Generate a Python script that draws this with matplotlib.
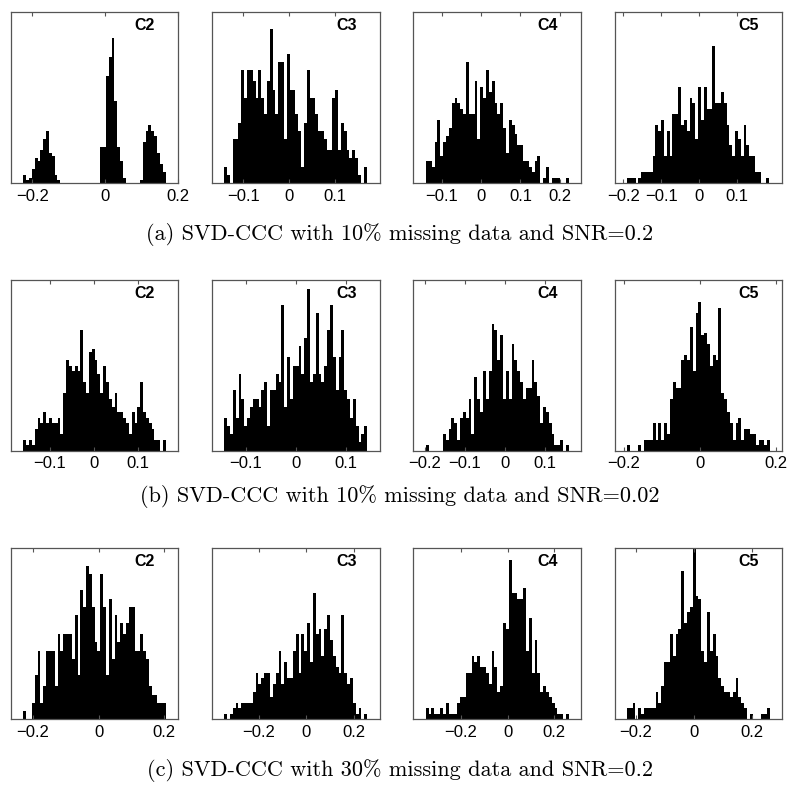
import numpy as np
import matplotlib
matplotlib.use("Agg")
import matplotlib.pyplot as plt

# ---------------- data ----------------
labels = ["C2", "C3", "C4", "C5"]
captions = [
    "(a) SVD-CCC with 10% missing data and SNR=0.2",
    "(b) SVD-CCC with 10% missing data and SNR=0.02",
    "(c) SVD-CCC with 30% missing data and SNR=0.2",
]

# row (a)
a_c2_range = (-0.2248, 0.167)
a_c2 = [3, 1, 2, 5, 9, 8, 12, 16, 19, 11, 10, 3, 1, 0, 0, 0, 0, 0, 0, 0, 0, 0, 0, 0, 0, 0,
        0, 13, 13, 39, 46, 53, 30, 13, 8, 2, 0, 0, 0, 0, 0, 1, 15, 19, 21, 19, 17, 11, 7, 4]
a_c3_range = (-0.1415, 0.169)
a_c3 = [6, 3, 0, 16, 16, 22, 41, 31, 41, 41, 37, 31, 41, 31, 25, 37, 56, 34, 25, 44,
        44, 16, 47, 34, 34, 25, 19, 6, 22, 41, 31, 31, 25, 19, 19, 16, 12, 12, 31, 34,
        12, 22, 19, 12, 9, 12, 9, 3, 0, 6]
a_c4_range = (-0.1397, 0.2228)
a_c4 = [8, 8, 6, 15, 23, 10, 15, 17, 20, 29, 31, 29, 27, 25, 44, 25, 25, 37, 16, 35,
        31, 41, 33, 37, 29, 25, 29, 20, 11, 23, 21, 18, 14, 14, 8, 8, 6, 4, 8, 10,
        0, 2, 6, 0, 2, 2, 2, 0, 0, 2]
a_c5_range = (-0.19, 0.1838)
a_c5 = [2, 2, 2, 0, 2, 4, 4, 4, 4, 10, 21, 19, 23, 10, 19, 10, 25, 25, 35, 21,
        23, 19, 31, 29, 16, 35, 23, 35, 27, 27, 50, 29, 29, 33, 29, 21, 14, 10, 19, 16,
        10, 21, 14, 10, 10, 4, 4, 0, 0, 2]

# row (b)
b_c2_range = (-0.1608, 0.1646)
b_c2 = [4, 2, 4, 2, 8, 12, 10, 14, 10, 12, 10, 10, 12, 6, 21, 33, 31, 29, 31, 29,
        44, 25, 21, 36, 37, 33, 28, 21, 31, 25, 19, 16, 21, 14, 14, 12, 10, 6, 14, 10,
        16, 25, 14, 12, 10, 8, 4, 4, 0, 4]
b_c3_range = (-0.1427, 0.1427)
b_c3 = [12, 9, 6, 22, 12, 28, 19, 9, 12, 16, 19, 19, 16, 22, 25, 9, 22, 22, 28, 25,
        53, 16, 34, 19, 31, 31, 38, 28, 41, 59, 25, 28, 50, 28, 25, 31, 44, 53, 34, 22,
        34, 44, 22, 19, 12, 19, 9, 3, 6, 9]
b_c4_range = (-0.198, 0.16)
b_c4 = [2, 0, 0, 0, 0, 0, 6, 4, 8, 12, 10, 4, 12, 14, 12, 19, 6, 27, 19, 14,
        29, 19, 29, 46, 44, 33, 42, 19, 29, 19, 39, 33, 29, 25, 19, 23, 23, 33, 25, 20,
        10, 16, 14, 10, 6, 2, 2, 4, 0, 2]
b_c5_range = (-0.1913, 0.1852)
b_c5 = [2, 0, 0, 0, 2, 0, 4, 4, 4, 10, 4, 10, 4, 10, 6, 19, 25, 23, 23, 33,
        35, 33, 45, 29, 50, 54, 42, 43, 39, 31, 35, 33, 52, 21, 19, 14, 10, 4, 10, 12,
        4, 8, 8, 6, 6, 2, 4, 4, 2, 4]

# row (c)
c_c2_range = (-0.2294, 0.205)
c_c2 = [3, 0, 0, 6, 16, 25, 6, 12, 25, 25, 25, 12, 31, 25, 31, 31, 31, 22, 38, 16,
        47, 41, 56, 53, 41, 28, 25, 53, 41, 16, 44, 22, 38, 28, 35, 31, 35, 41, 41, 25,
        25, 31, 25, 22, 12, 9, 9, 6, 6, 6]
c_c3_range = (-0.345, 0.2557)
c_c3 = [2, 0, 2, 4, 6, 4, 6, 6, 6, 6, 10, 17, 13, 15, 17, 17, 8, 13, 17, 25,
        13, 21, 15, 15, 25, 31, 17, 31, 25, 35, 21, 46, 31, 33, 23, 33, 38, 29, 23, 19,
        17, 38, 17, 13, 15, 6, 2, 4, 0, 2]
c_c4_range = (-0.351, 0.263)
c_c4 = [4, 2, 4, 2, 2, 4, 2, 6, 2, 2, 2, 6, 8, 8, 17, 17, 23, 21, 23, 19,
        19, 17, 13, 25, 19, 10, 12, 35, 33, 58, 46, 46, 44, 44, 48, 25, 37, 17, 29, 17,
        10, 12, 10, 8, 6, 4, 2, 2, 0, 2]
c_c5_range = (-0.231, 0.2606)
c_c5 = [4, 4, 6, 0, 4, 2, 4, 4, 4, 4, 10, 6, 12, 21, 21, 31, 23, 31, 33, 54,
        35, 39, 41, 62, 45, 44, 25, 21, 39, 25, 31, 23, 15, 12, 10, 10, 8, 10, 15, 8,
        6, 4, 0, 2, 0, 0, 0, 2, 2, 4]

panels = [
    [(a_c2_range, a_c2), (a_c3_range, a_c3), (a_c4_range, a_c4), (a_c5_range, a_c5)],
    [(b_c2_range, b_c2), (b_c3_range, b_c3), (b_c4_range, b_c4), (b_c5_range, b_c5)],
    [(c_c2_range, c_c2), (c_c3_range, c_c3), (c_c4_range, c_c4), (c_c5_range, c_c5)],
]

xlims = [
    [(-0.2596, 0.2018), (-0.1676, 0.198), (-0.1719, 0.2533), (-0.2223, 0.218)],
    [(-0.1897, 0.1928), (-0.1667, 0.168), (-0.229, 0.19), (-0.2235, 0.2174)],
    [(-0.268, 0.2426), (-0.395, 0.309), (-0.404, 0.314), (-0.273, 0.303)],
]
xticks = [
    [[-0.2, 0, 0.2], [-0.1, 0, 0.1], [-0.1, 0, 0.1, 0.2], [-0.2, -0.1, 0, 0.1]],
    [[-0.1, 0, 0.1], [-0.1, 0, 0.1], [-0.2, -0.1, 0, 0.1], [-0.2, 0, 0.2]],
    [[-0.2, 0, 0.2], [-0.2, 0, 0.2], [-0.2, 0, 0.2], [-0.2, 0, 0.2]],
]
y_top = 62.3

# ---------------- layout ----------------
W, H = 800, 786
fig = plt.figure(figsize=(W / 100, H / 100), dpi=100)

col_left = [10.7, 212.3, 413.3, 614.7]
ax_w = 167.5
row_top = [12.0, 279.7, 548.3]
ax_h = 171.0
cap_y = [234, 497, 770]


def fmt(v):
    if abs(v) < 1e-12:
        return "0"
    s = ("%g" % v)
    return s.replace("-", "\u2212")


for r in range(3):
    for c in range(4):
        (lo, hi), counts = panels[r][c]
        counts = np.asarray(counts, dtype=float)
        edges = np.linspace(lo, hi, len(counts) + 1)
        centers = 0.5 * (edges[:-1] + edges[1:])
        width = edges[1] - edges[0]
        ax = fig.add_axes([col_left[c] / W, 1 - (row_top[r] + ax_h) / H, ax_w / W, ax_h / H])
        ax.bar(centers, counts, width=width, color="black", linewidth=0, align="center")
        ax.set_xlim(*xlims[r][c])
        ax.set_ylim(0, y_top)
        ax.set_yticks([])
        ax.set_xticks(xticks[r][c])
        ax.set_xticklabels([fmt(v) for v in xticks[r][c]], fontsize=12,
                           family=["Liberation Sans", "DejaVu Sans"])
        ax.tick_params(axis="x", direction="in", top=True, length=3, width=0.8,
                       color="#555555", pad=4)
        for sp in ax.spines.values():
            sp.set_color("#555555")
            sp.set_linewidth(0.9)
        ax.text(0.80, 0.92, labels[c], transform=ax.transAxes, ha="center", va="center",
                fontsize=11.5, fontweight="bold", family=["Liberation Sans", "DejaVu Sans"])
    fig.text(0.5, 1 - cap_y[r] / H, captions[r], ha="center", va="center",
             fontsize=16, family=["cmr10", "DejaVu Serif"])

fig.savefig("out.png", dpi=100)
